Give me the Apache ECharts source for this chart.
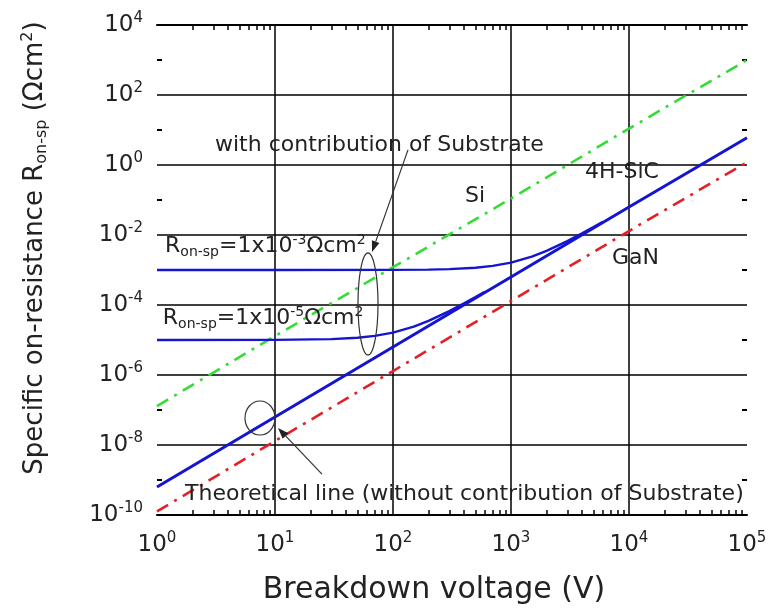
<!DOCTYPE html>
<html>
<head>
<meta charset="utf-8">
<script src="https://cdn.jsdelivr.net/npm/echarts@6/dist/echarts.min.js"></script>
<style>
html, body { margin: 0; padding: 0; background: #fff; }
#chart { width: 770px; height: 612px; }
</style>
</head>
<body>
<div id="chart"></div>
<script>
// Breakdown voltage (V) at which each limit line is sampled
const voltage = [1, 10, 100, 1000, 10000, 100000];
// Specific on-resistance limits (Ω·cm²)
const siLimit = [1.3e-7, 1.3e-5, 1.2e-3, 1.1e-1, 11, 1000];
const sicLimit = [6.3e-10, 6.3e-8, 6.3e-6, 6.3e-4, 6.3e-2, 6.0];
const ganLimit = [1.26e-10, 1.3e-8, 1.3e-6, 1.3e-4, 1.3e-2, 1.2];

// 4H-SiC including a substrate resistance of 1e-3 Ω·cm²
const sub3Voltage = [1, 10, 100, 200, 300, 500, 700, 1000, 1500, 2000, 3000, 4000, 5000, 6000];
const sub3Values = [1e-3, 1e-3, 1.006e-3, 1.025e-3, 1.057e-3, 1.16e-3, 1.31e-3, 1.63e-3, 2.42e-3, 3.52e-3, 6.67e-3, 1.11e-2, 1.68e-2, 2.37e-2];
// 4H-SiC including a substrate resistance of 1e-5 Ω·cm²
const sub5Voltage = [1, 10, 30, 50, 70, 100, 150, 200, 300, 400, 500, 600];
const sub5Values = [1e-5, 1.006e-5, 1.057e-5, 1.16e-5, 1.31e-5, 1.63e-5, 2.42e-5, 3.52e-5, 6.67e-5, 1.11e-4, 1.68e-4, 2.37e-4];

// Axis ticks
const xLabelValues = [1, 10, 100, 1000, 10000, 100000];
const yLabelValues = [1e-10, 1e-8, 1e-6, 1e-4, 1e-2, 1, 100, 10000];
const yMinorValues = [1e-9, 1e-7, 1e-5, 1e-3, 1e-1, 10, 1000];
const xMinorValues = [];
for (let d = 1; d < 100000; d *= 10) {
  for (let k = 2; k <= 9; k++) xMinorValues.push(k * d);
}

const FONT = "'DejaVu Sans', 'Liberation Sans', sans-serif";
const TXT = '#222';

function pairs(xs, ys) { return xs.map((x, i) => [x, ys[i]]); }

function powLabel(v) {
  const e = Math.round(Math.log10(v));
  return '{b|10}{s|' + e + '}';
}
const powRich = {
  b: { fontSize: 23, fontFamily: FONT, color: TXT, lineHeight: 28 },
  s: { fontSize: 15, fontFamily: FONT, color: TXT, lineHeight: 15, verticalAlign: 'top' }
};

const GRID = { left: 157, right: 23, top: 25, bottom: 97 };

const chart = echarts.init(document.getElementById('chart'));

chart.setOption({
  animation: false,
  backgroundColor: '#fff',
  grid: GRID,
  xAxis: [
    {
      type: 'log', logBase: 10, min: 1, max: 100000, interval: 1, position: 'bottom',
      axisLine: { show: true, lineStyle: { color: '#000', width: 2 } },
      axisTick: { show: false },
      axisLabel: { formatter: powLabel, rich: powRich, margin: 16 },
      splitLine: { show: true, showMinLine: false, showMaxLine: false, lineStyle: { color: '#000', width: 1.5 } }
    },
    {
      type: 'log', logBase: 10, min: 1, max: 100000, position: 'top',
      axisLine: { show: true, lineStyle: { color: '#000', width: 2 } },
      axisTick: { show: true, inside: true, length: 5, customValues: xMinorValues, lineStyle: { color: '#000', width: 1.5 } },
      axisLabel: { show: false },
      splitLine: { show: false }
    },
    {
      type: 'log', logBase: 10, min: 1, max: 100000, position: 'bottom',
      axisLine: { show: false },
      axisTick: { show: true, inside: true, length: 5, customValues: xMinorValues, lineStyle: { color: '#000', width: 1.5 } },
      axisLabel: { show: false },
      splitLine: { show: false }
    }
  ],
  yAxis: [
    {
      type: 'log', logBase: 10, min: 1e-10, max: 1e4, interval: 2, position: 'left',
      axisLine: { show: false },
      axisTick: { show: false },
      axisLabel: { formatter: powLabel, rich: powRich, margin: 14 },
      splitLine: { show: true, showMinLine: false, showMaxLine: false, lineStyle: { color: '#000', width: 1.5 } }
    },
    {
      type: 'log', logBase: 10, min: 1e-10, max: 1e4, position: 'left',
      axisLine: { show: false },
      axisTick: { show: true, inside: true, length: 5, customValues: yMinorValues, lineStyle: { color: '#000', width: 2 } },
      axisLabel: { show: false },
      splitLine: { show: false }
    },
    {
      type: 'log', logBase: 10, min: 1e-10, max: 1e4, position: 'right',
      axisLine: { show: false },
      axisTick: { show: true, inside: true, length: 5, customValues: yMinorValues, lineStyle: { color: '#000', width: 2 } },
      axisLabel: { show: false },
      splitLine: { show: false }
    }
  ],
  series: [
    {
      name: 'Si', type: 'line', symbol: 'none', z: 3,
      data: pairs(voltage, siLimit),
      lineStyle: { color: '#35dc35', width: 2.6, type: [13, 7, 3, 7] }
    },
    {
      name: 'GaN', type: 'line', symbol: 'none', z: 3,
      data: pairs(voltage, ganLimit),
      lineStyle: { color: '#e41f26', width: 2.6, type: [13, 7, 3, 7] }
    },
    {
      name: '4H-SiC', type: 'line', symbol: 'none', z: 4,
      data: pairs(voltage, sicLimit),
      lineStyle: { color: '#1414d2', width: 3 }
    },
    {
      name: '4H-SiC + 1e-3 substrate', type: 'line', symbol: 'none', z: 4,
      data: pairs(sub3Voltage, sub3Values),
      lineStyle: { color: '#1414d2', width: 2.4 }
    },
    {
      name: '4H-SiC + 1e-5 substrate', type: 'line', symbol: 'none', z: 4,
      data: pairs(sub5Voltage, sub5Values),
      lineStyle: { color: '#1414d2', width: 2.4 }
    }
  ]
});

// Annotations anchored in data space (voltage, resistance)
function px(v, r) { return chart.convertToPixel({ xAxisIndex: 0, yAxisIndex: 0 }, [v, r]); }

function textEl(v, r, text, rich, fontSize) {
  const p = px(v, r);
  return {
    type: 'text', x: p[0], y: p[1], z: 10,
    style: {
      text: text, fill: TXT, font: fontSize + 'px ' + FONT,
      align: 'left', verticalAlign: 'middle', textAlign: 'left', textVerticalAlign: 'middle',
      rich: rich || {}
    }
  };
}

function arrowEls(from, to) {
  const a = px(from[0], from[1]);
  const b = px(to[0], to[1]);
  const ang = Math.atan2(b[1] - a[1], b[0] - a[0]);
  const len = 11, half = 4;
  const bx = b[0] - len * Math.cos(ang), by = b[1] - len * Math.sin(ang);
  const nx = -Math.sin(ang) * half, ny = Math.cos(ang) * half;
  return [
    { type: 'line', z: 10, shape: { x1: a[0], y1: a[1], x2: bx, y2: by }, style: { stroke: '#333', lineWidth: 1.2 } },
    { type: 'polygon', z: 10, shape: { points: [[b[0], b[1]], [bx + nx, by + ny], [bx - nx, by - ny]] }, style: { fill: '#222' } }
  ];
}

function ellipseEl(v, r, rx, ry) {
  const p = px(v, r);
  return { type: 'ellipse', z: 10, shape: { cx: p[0], cy: p[1], rx: rx, ry: ry }, style: { fill: 'none', stroke: '#333', lineWidth: 1.2 } };
}

const subRich = {
  n: { fontSize: 22, fontFamily: FONT, fill: TXT, lineHeight: 26 },
  sub: { fontSize: 14, fontFamily: FONT, fill: TXT, lineHeight: 12, verticalAlign: 'bottom' },
  sup: { fontSize: 14, fontFamily: FONT, fill: TXT, lineHeight: 12, verticalAlign: 'top' }
};

const yTitle = {
  type: 'text', x: 35, y: 248, rotation: Math.PI / 2, z: 10,
  style: {
    text: '{n|Specific on-resistance R}{sub|on-sp}{n| (Ωcm}{sup|2}{n|)}',
    align: 'center', verticalAlign: 'middle', textAlign: 'center', textVerticalAlign: 'middle',
    rich: {
      n: { fontSize: 26, fontFamily: FONT, fill: TXT, lineHeight: 30 },
      sub: { fontSize: 16, fontFamily: FONT, fill: TXT, lineHeight: 14, verticalAlign: 'bottom' },
      sup: { fontSize: 16, fontFamily: FONT, fill: TXT, lineHeight: 14, verticalAlign: 'top' }
    }
  }
};

const xTitle = {
  type: 'text', x: 434, y: 590, z: 10,
  style: {
    text: 'Breakdown voltage (V)', fill: TXT, font: '30px ' + FONT,
    align: 'center', verticalAlign: 'middle', textAlign: 'center', textVerticalAlign: 'middle'
  }
};

const graphics = [
  yTitle,
  xTitle,
  textEl(3.1, 3.7, 'with contribution of Substrate', null, 22),
  textEl(407, 0.13, 'Si', null, 22),
  textEl(4240, 0.63, '4H-SiC', null, 22),
  textEl(7180, 2.2e-3, 'GaN', null, 22),
  textEl(1.17, 4.85e-3, '{n|R}{sub|on-sp}{n|=1x10}{sup|-3}{n|Ωcm}{sup|2}', subRich, 22),
  textEl(1.12, 4.25e-5, '{n|R}{sub|on-sp}{n|=1x10}{sup|-5}{n|Ωcm}{sup|2}', subRich, 22),
  textEl(1.73, 4e-10, 'Theoretical line (without contribution of Substrate)', null, 22),
  ellipseEl(61.4, 1.07e-4, 10, 51),
  ellipseEl(7.46, 5.9e-8, 15, 17)
].concat(
  arrowEls([134, 2.7], [66.4, 3.27e-3]),
  arrowEls([25, 1.48e-9], [10.6, 3.06e-8])
);

chart.setOption({ graphic: graphics });
</script>
</body>
</html>
